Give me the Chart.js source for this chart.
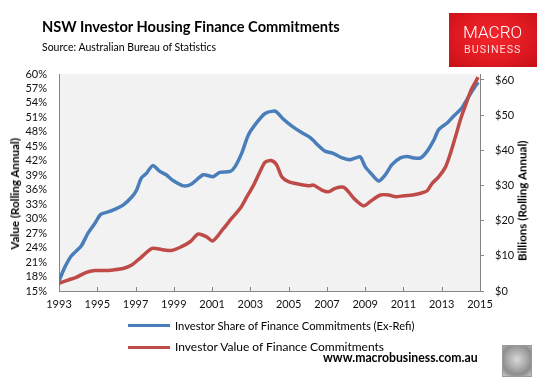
<!DOCTYPE html>
<html><head><meta charset="utf-8">
<script src="https://cdn.jsdelivr.net/npm/chart.js@4.4.1/dist/chart.umd.min.js"></script>
<style>
html,body{margin:0;padding:0;background:#fff;}
#wrap{position:relative;width:549px;height:386px;overflow:hidden;font-family:Lato,'Open Sans',sans-serif;color:#000;}
canvas{position:absolute;left:0;top:0;}
.t{position:absolute;white-space:nowrap;line-height:1;}
#logo{position:absolute;left:449px;top:13px;width:88px;height:54px;
 background:radial-gradient(ellipse at 50% 45%,#f3272d 0%,#e11a21 55%,#c51017 100%);}
#wolf{position:absolute;left:502px;top:345px;width:28px;height:30px;border:1px solid #9a9a9a;
 background:radial-gradient(circle at 50% 45%,#d8d8d8 0%,#a9a9a9 45%,#8c8c8c 70%,#c9c9c9 100%);}
.leg{position:absolute;height:3px;}
</style></head><body>
<div id="wrap">
<canvas id="c" width="549" height="386"></canvas>
<div class="t fit" data-x="42" data-cy="27" data-w="298" style="font-weight:700;font-size:17px">NSW Investor Housing Finance Commitments</div>
<div class="t fit" data-x="42" data-cy="47" data-w="174" style="font-size:12px">Source: Australian Bureau of Statistics</div>
<div id="logo"></div>
<div class="t fit" data-x="463" data-cy="32" data-w="59" style="font-family:Roboto;font-weight:300;font-size:20px;color:#fff">MACRO</div>
<div class="t fit" data-x="464" data-cy="50" data-w="58" style="font-family:Roboto;font-weight:400;font-size:10px;letter-spacing:1px;color:#ffd9d9">BUSINESS</div>
<div class="t fit rot" id="lt" data-cx="15" data-cy="194" data-w="112" style="font-weight:700;font-size:12px">Value (Rolling Annual)</div>
<div class="t rot" id="rt" data-cx="522" data-cy="201" style="font-weight:700;font-size:12px">Billions (Rolling Annual)</div>
<div class="leg" style="left:128px;top:324px;width:42px;background:#4a7ebb"></div>
<div class="t fit" data-x="175" data-cy="325" data-w="240" style="font-size:12px">Investor Share of Finance Commitments (Ex-Refi)</div>
<div class="leg" style="left:128px;top:346px;width:42px;background:#be4b48"></div>
<div class="t" id="leg2" data-x="175" data-cy="347" style="font-size:12px">Investor Value of Finance Commitments</div>
<div class="t fit" data-x="323" data-cy="358" data-w="155" style="font-weight:700;font-size:14px">www.macrobusiness.com.au</div>
<div id="wolf"></div>
</div>
<script>
// ---- data ----
const shareYears = [1993.0,1993.3,1993.65,1994.17,1994.5,1994.87,1995.18,1995.57,1996.0,1996.35,1996.8,1997.05,1997.3,1997.57,1997.9,1998.27,1998.6,1998.96,1999.5,1999.93,2000.54,2001.06,2001.4,2001.95,2002.2,2002.55,2002.9,2003.33,2003.77,2004.2,2004.38,2004.73,2005.17,2005.7,2006.13,2006.57,2006.9,2007.35,2007.8,2008.2,2008.5,2008.75,2009.0,2009.3,2009.7,2010.05,2010.4,2010.84,2011.2,2011.53,2011.9,2012.24,2012.6,2012.85,2013.3,2013.63,2014.0,2014.33,2014.6,2014.9];
const shareValues = [17.1,19.9,22.3,24.4,26.9,29.0,30.9,31.4,32.1,32.8,34.5,35.9,38.4,39.4,41.0,39.8,39.1,37.9,36.8,37.2,39.1,38.7,39.6,39.8,40.8,43.6,47.4,49.9,51.8,52.3,52.1,50.6,49.2,47.8,46.8,45.1,44.0,43.5,42.6,42.2,42.6,42.8,40.8,39.4,37.8,39.1,41.2,42.6,42.9,42.6,42.6,44.0,46.4,48.5,49.9,51.3,52.7,54.8,56.5,58.3];
const valueYears = [1993.0,1993.47,1993.9,1994.43,1994.87,1995.4,1995.83,1996.35,1996.8,1997.23,1997.87,1998.36,1998.88,1999.4,1999.85,2000.28,2000.72,2001.03,2001.6,2002.03,2002.47,2002.82,2003.17,2003.5,2003.77,2004.1,2004.38,2004.64,2004.99,2005.5,2006.04,2006.3,2006.74,2007.08,2007.43,2007.87,2008.13,2008.4,2008.92,2009.3,2009.8,2010.23,2010.6,2011.03,2011.47,2011.9,2012.24,2012.5,2012.85,2013.2,2013.46,2013.72,2014.0,2014.25,2014.5,2014.77,2014.9];
const valueValues = [2.2,3.1,3.9,5.3,5.8,5.8,6.0,6.4,7.4,9.3,12.1,11.8,11.5,12.6,14.0,16.2,15.4,14.2,17.8,20.7,23.5,26.8,30.1,33.9,36.6,37.1,35.8,32.5,31.1,30.4,29.9,30.1,28.7,28.2,29.2,29.5,28.2,26.4,24.2,25.6,27.3,27.3,26.8,27.1,27.3,27.8,28.5,30.6,32.5,35.3,39.2,43.9,49.1,52.9,56.7,59.5,60.8];
const xTicks = [1993,1995,1997,1999,2001,2003,2005,2007,2009,2011,2013,2015];
const leftTicks = [15,18,21,24,27,30,33,36,39,42,45,48,51,54,57,60];
const rightTicks = [0,10,20,30,40,50,60];
const seriesNames = ['Investor Share of Finance Commitments (Ex-Refi)','Investor Value of Finance Commitments'];

// ---- text placement ----
document.querySelectorAll('#wrap .t').forEach(el=>{
  if(el.classList.contains('fit')){
    const fs=parseFloat(el.style.fontSize);
    el.style.fontSize=(fs*parseFloat(el.dataset.w)/el.offsetWidth)+'px';
  }
});
const lt=document.getElementById('lt');
document.getElementById('rt').style.fontSize=lt.style.fontSize;
document.querySelectorAll('#wrap .t').forEach(el=>{
  const w=el.offsetWidth,h=el.offsetHeight,cy=parseFloat(el.dataset.cy);
  if(el.classList.contains('rot')){
    const cx=parseFloat(el.dataset.cx);
    el.style.left=(cx-w/2)+'px'; el.style.top=(cy-h/2)+'px';
    el.style.transform='rotate(-90deg)'; el.style.transformOrigin='50% 50%';
  } else {
    el.style.left=el.dataset.x+'px'; el.style.top=(cy-h/2)+'px';
  }
});

const AX='#868686';
const plotBg={id:'plotBg',beforeDraw(chart){const {ctx,chartArea:a}=chart;ctx.save();ctx.fillStyle='#f2f2f2';ctx.fillRect(a.left,a.top,a.right-a.left,a.bottom-a.top);ctx.restore();}};
const innerTicks={id:'innerTicks',afterDraw(chart){const {ctx,chartArea:a}=chart;const xs=chart.scales.x;ctx.save();ctx.strokeStyle=AX;ctx.lineWidth=1;
  xs.ticks.forEach(t=>{const px=Math.round(xs.getPixelForValue(t.value))+0.5;ctx.beginPath();ctx.moveTo(px,a.bottom);ctx.lineTo(px,a.bottom-4);ctx.stroke();});ctx.restore();}};

new Chart(document.getElementById('c'),{
  type:'line',
  data:{datasets:[
    {label:seriesNames[1],data:valueYears.map((x,i)=>({x,y:valueValues[i]})),yAxisID:'y1',borderColor:'#be4b48',borderWidth:3.5,pointRadius:0,tension:0.25,fill:false},
    {label:seriesNames[0],data:shareYears.map((x,i)=>({x,y:shareValues[i]})),yAxisID:'y',borderColor:'#4a7ebb',borderWidth:3.5,pointRadius:0,tension:0.25,fill:false}
  ]},
  options:{
    responsive:false,animation:false,devicePixelRatio:1,
    layout:{padding:{top:74,left:0,right:0,bottom:0}},
    plugins:{legend:{display:false},tooltip:{enabled:false}},
    scales:{
      x:{type:'linear',position:'bottom',min:1993,max:2015,
        afterBuildTicks:s=>{s.ticks=xTicks.map(v=>({value:v}));},
        afterFit:s=>{s.height=95;},
        grid:{display:false,drawTicks:false},border:{display:true,color:AX,width:1},
        ticks:{padding:7,autoSkip:false,maxRotation:0,color:'#111',font:{family:'Lato',size:11},callback:v=>String(v)}},
      y:{type:'linear',position:'left',min:15,max:60,
        afterBuildTicks:s=>{s.ticks=leftTicks.map(v=>({value:v}));},
        afterFit:s=>{s.width=59;},
        grid:{display:false,drawTicks:false},border:{display:true,color:AX,width:1},
        ticks:{padding:12,autoSkip:false,color:'#111',font:{family:'Lato',size:11},callback:v=>v+'%'}},
      y1:{type:'linear',position:'right',min:0,max:61.7,
        afterBuildTicks:s=>{s.ticks=rightTicks.map(v=>({value:v}));},
        afterFit:s=>{s.width=69;},
        grid:{display:true,drawOnChartArea:false,drawTicks:true,tickLength:4,color:AX},border:{display:true,color:AX,width:1},
        ticks:{padding:11,autoSkip:false,color:'#111',font:{family:'Lato',size:11},callback:v=>'$'+v}}
    }
  },
  plugins:[plotBg,innerTicks]
});
</script>
</body></html>
